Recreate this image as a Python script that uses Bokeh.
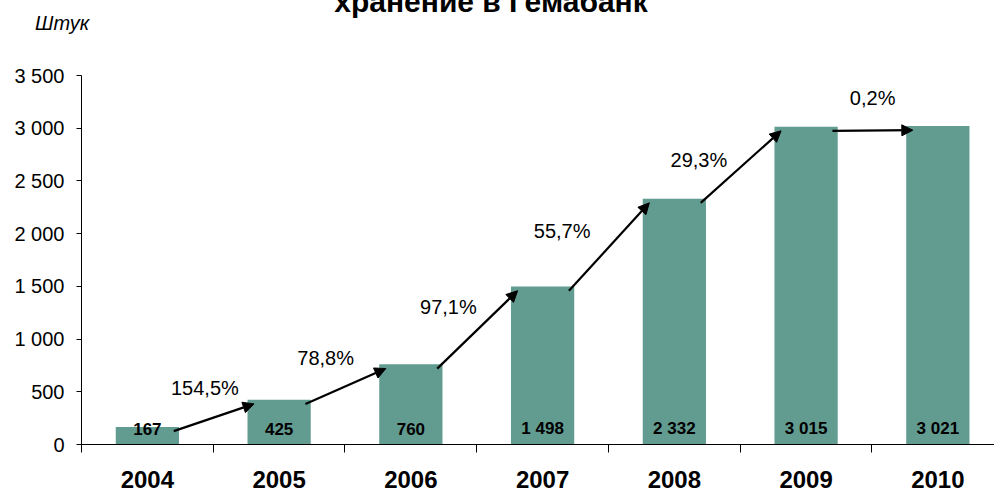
import numpy as np
from bokeh.plotting import figure
from bokeh.layouts import column
from bokeh.models import Range1d, FixedTicker, Arrow, NormalHead, ColumnDataSource, Div
from bokeh.core.properties import value
from bokeh.embed import file_html
from bokeh.resources import INLINE

# ---- data ----
years = ["2004", "2005", "2006", "2007", "2008", "2009", "2010"]
counts = [167, 425, 760, 1498, 2332, 3015, 3021]
count_labels = ["167", "425", "760", "1 498", "2 332", "3 015", "3 021"]
growth_labels = ["154,5%", "78,8%", "97,1%", "55,7%", "29,3%", "0,2%"]
y_ticks = [0, 500, 1000, 1500, 2000, 2500, 3000, 3500]
y_tick_labels = ["0", "500", "1 000", "1 500", "2 000", "2 500", "3 000", "3 500"]
title_text = "хранение в Гемабанк"
unit_text = "Штук"

FONT = "Liberation Sans"
BAR = "#629B90"
W = 994
HEAD_H = 63
TOP_PAD = 12

# ---- header (title + unit), real HTML text ----
head_html = (
    f'<div style="position:relative;width:{W}px;height:{HEAD_H}px;overflow:hidden;'
    f'font-family:\'{FONT}\';color:black;">'
    f'<span style="position:absolute;left:491px;top:-13px;transform:translateX(-50%);'
    f'white-space:nowrap;font-size:30px;line-height:30px;font-weight:bold;">{title_text}</span>'
    f'<span style="position:absolute;left:35px;top:13px;white-space:nowrap;'
    f'font-size:20px;line-height:20px;font-style:italic;">{unit_text}</span>'
    f'</div>'
)
head = Div(text=head_html, width=W, height=HEAD_H, margin=0)

# ---- main chart ----
xs = np.arange(len(years))

p = figure(frame_width=W - 81, frame_height=369,
           min_border_left=81, min_border_right=0, min_border_top=TOP_PAD, min_border_bottom=0,
           x_range=Range1d(-0.5, 6.43), y_range=Range1d(0, 3500),
           output_backend="svg", toolbar_location=None, margin=0)
p.outline_line_color = None
p.xgrid.visible = False
p.ygrid.visible = False
p.background_fill_color = "white"
p.border_fill_color = "white"

# bars
src = ColumnDataSource(dict(x=xs, top=counts, lab=count_labels, y0=[0] * len(xs)))
p.vbar(x="x", top="top", width=0.48, source=src, fill_color=BAR, line_color=None)
p.text(x="x", y="y0", text="lab", source=src, text_align="center", text_baseline="middle",
       y_offset=-16, text_font=value(FONT), text_font_style="bold", text_font_size="17px",
       text_color="black")

# arrows between consecutive bars
c = np.array(counts, dtype=float)
xs0 = xs[:-1] + 0.2
xs1 = xs[1:] - 0.19
ys0 = c[:-1] - 40
ys1 = c[1:] - 40
asrc = ColumnDataSource(dict(x0=xs0, y0=ys0, x1=xs1, y1=ys1))
p.add_layout(Arrow(x_start="x0", y_start="y0", x_end="x1", y_end="y1", source=asrc,
                   line_width=2.2, line_color="black",
                   end=NormalHead(size=11, fill_color="black", line_color="black")))

# growth labels (pixel offsets from arrow midpoints)
dx = [-9, -20, -29, -47, -42, 0]
dy = [-30, -28, -23, -16, -7, -33]
gsrc = ColumnDataSource(dict(x=(xs0 + xs1) / 2, y=(ys0 + ys1) / 2, t=growth_labels, dx=dx, dy=dy))
p.text(x="x", y="y", text="t", x_offset="dx", y_offset="dy", source=gsrc,
       text_align="center", text_baseline="middle", text_font=value(FONT),
       text_font_size="20px", text_color="black")

# x axis
xa = p.xaxis[0]
xa.ticker = FixedTicker(ticks=list(xs), minor_ticks=[i - 0.5 for i in range(len(years) + 1)])
xa.major_label_overrides = {int(i): y for i, y in zip(xs, years)}
xa.major_tick_out = 0
xa.major_tick_in = 0
xa.minor_tick_out = 8
xa.minor_tick_in = 0
xa.minor_tick_line_color = "black"
xa.axis_line_color = "black"
xa.major_label_standoff = 18
xa.major_label_text_font = FONT
xa.major_label_text_font_style = "bold"
xa.major_label_text_font_size = "24px"
xa.major_label_text_color = "black"

# y axis
ya = p.yaxis[0]
ya.ticker = FixedTicker(ticks=y_ticks, minor_ticks=[])
ya.major_label_overrides = {t: l for t, l in zip(y_ticks, y_tick_labels)}
ya.major_tick_out = 5
ya.major_tick_in = 0
ya.major_tick_line_color = "black"
ya.axis_line_color = "black"
ya.major_label_standoff = 12
ya.major_label_text_font = FONT
ya.major_label_text_font_size = "20px"
ya.major_label_text_color = "black"

layout = column(head, p, spacing=0)
open("out.html", "w").write(file_html(layout, INLINE))
